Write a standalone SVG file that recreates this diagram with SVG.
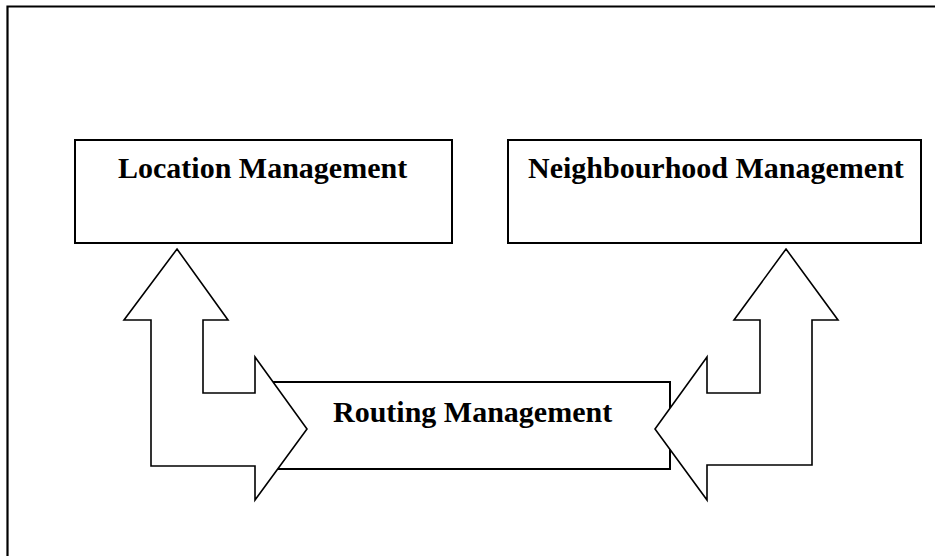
<svg xmlns="http://www.w3.org/2000/svg" width="935" height="556" viewBox="0 0 935 556">
  <style>
    .box { fill: #fff; stroke: #000; stroke-width: 2; }
    .arrow { fill: #fff; stroke: #000; stroke-width: 1.6; stroke-linejoin: miter; }
    .label { font-family: "Liberation Serif", "Times New Roman", serif; font-weight: bold; font-size: 30px; fill: #000; }
    .frame { fill: none; stroke: #000; stroke-width: 2.2; }
  </style>
  <rect x="0" y="0" width="935" height="556" fill="#fff"/>
  <path class="frame" d="M7.5,556 V6.5 H935"/>

  <g id="location-management">
    <rect class="box" x="75" y="140" width="377" height="103"/>
    <text class="label" x="118" y="178">Location Management</text>
  </g>

  <g id="neighbourhood-management">
    <rect class="box" x="508" y="140" width="413" height="103"/>
    <text class="label" x="528" y="178">Neighbourhood Management</text>
  </g>

  <g id="routing-management">
    <rect class="box" x="265" y="382" width="405" height="87"/>
    <text class="label" x="333" y="422">Routing Management</text>
  </g>

  <g id="connectors">
    <polygon class="arrow" points="177,249 228,320 203,320 203,393 255,393 255,357 307,429 255,500 255,466 151,466 151,320 124,320"/>
    <polygon class="arrow" points="786,249 838,320 812,320 812,465 707,465 707,500 655,429 707,357 707,393 760,393 760,320 734,320"/>
  </g>
</svg>
